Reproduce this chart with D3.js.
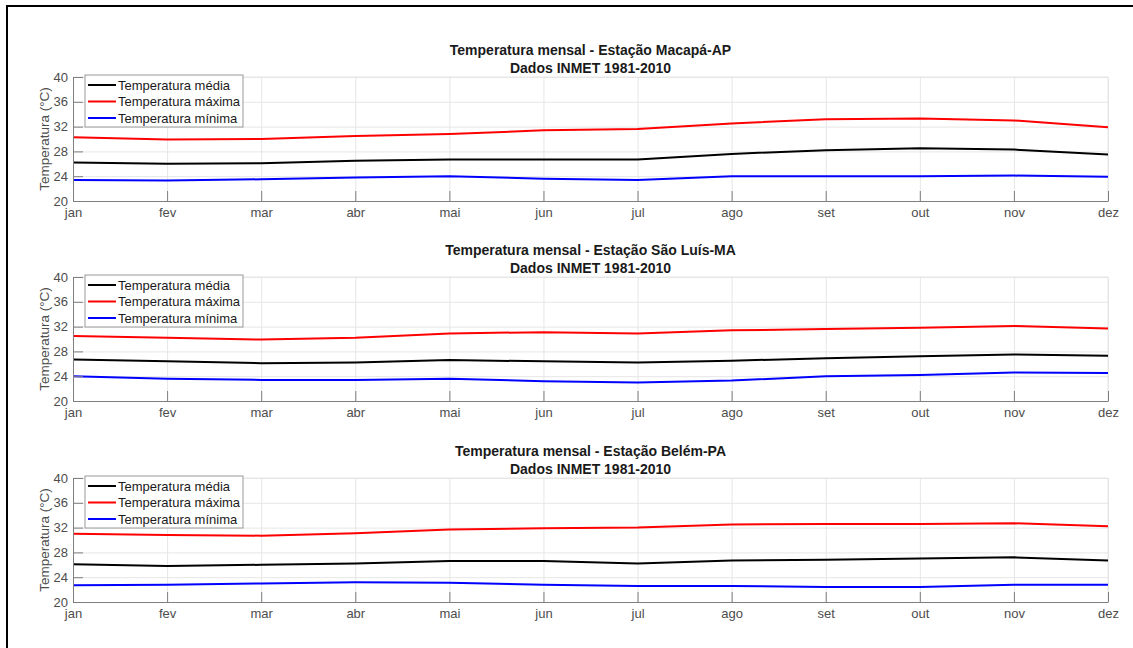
<!DOCTYPE html>
<html>
<head>
<meta charset="utf-8">
<script src="https://cdn.jsdelivr.net/npm/d3@7"></script>
<style>
  html, body { margin: 0; padding: 0; background: #fff; }
  svg { display: block; }
  text { font-family: "Liberation Sans", Arial, Helvetica, sans-serif; }
</style>
</head>
<body>
<svg id="chart" width="1133" height="648"></svg>
<script>
// Monthly normals (INMET 1981-2010), °C
const months = ["jan", "fev", "mar", "abr", "mai", "jun", "jul", "ago", "set", "out", "nov", "dez"];
const yTicks = [20, 24, 28, 32, 36, 40];

const stations = ["Macapá-AP", "São Luís-MA", "Belém-PA"];

const macapaMedia  = [26.2, 26.0, 26.1, 26.5, 26.7, 26.7, 26.7, 27.6, 28.2, 28.5, 28.3, 27.5];
const macapaMaxima = [30.3, 29.9, 30.0, 30.5, 30.8, 31.4, 31.6, 32.5, 33.2, 33.3, 33.0, 31.9];
const macapaMinima = [23.4, 23.3, 23.5, 23.8, 24.0, 23.6, 23.4, 24.0, 24.0, 24.0, 24.1, 23.9];

const saoLuisMedia  = [26.7, 26.4, 26.1, 26.2, 26.6, 26.4, 26.2, 26.5, 26.9, 27.2, 27.5, 27.3];
const saoLuisMaxima = [30.5, 30.2, 29.9, 30.2, 30.9, 31.1, 30.9, 31.4, 31.6, 31.8, 32.1, 31.7];
const saoLuisMinima = [24.0, 23.6, 23.4, 23.4, 23.6, 23.2, 23.0, 23.3, 24.0, 24.2, 24.6, 24.5];

const belemMedia  = [26.1, 25.8, 26.0, 26.2, 26.6, 26.6, 26.2, 26.7, 26.8, 27.0, 27.2, 26.7];
const belemMaxima = [31.0, 30.8, 30.7, 31.1, 31.7, 31.9, 32.0, 32.5, 32.6, 32.6, 32.7, 32.2];
const belemMinima = [22.7, 22.8, 23.0, 23.2, 23.1, 22.8, 22.6, 22.6, 22.4, 22.4, 22.8, 22.8];

const seriesNames  = ["Temperatura média", "Temperatura máxima", "Temperatura mínima"];
const seriesColors = ["#000000", "#ff0000", "#0000ff"];

const stationSeries = [
  [macapaMedia, macapaMaxima, macapaMinima],
  [saoLuisMedia, saoLuisMaxima, saoLuisMinima],
  [belemMedia, belemMaxima, belemMinima]
];

const svg = d3.select("#chart");

// figure frame (top and left edges)
svg.append("line").attr("x1", 7).attr("x2", 1133).attr("y1", 6).attr("y2", 6)
  .attr("stroke", "#000").attr("stroke-width", 2);
svg.append("line").attr("x1", 7).attr("x2", 7).attr("y1", 5).attr("y2", 648)
  .attr("stroke", "#000").attr("stroke-width", 2);

const left = 73, right = 1108;
const panelTops = [77, 277, 478];
const plotH = 124;

const x = d3.scalePoint().domain(months).range([left, right]);

const tickFont = 13;
const legendFont = 13;
const titleFont = 14;
const labelFont = 13.5;
const axisGray = "#7f7f7f";
const labelGray = "#4d4d4d";

stations.forEach((station, si) => {
  const top = panelTops[si];
  const bottom = top + plotH;
  const y = d3.scaleLinear().domain([20, 40]).range([bottom, top]);
  const g = svg.append("g");

  // grid
  const gridX = g.append("g").attr("transform", `translate(0,${bottom})`)
    .call(d3.axisBottom(x).tickSize(-plotH).tickFormat(""));
  gridX.select(".domain").remove();
  gridX.selectAll("line").attr("stroke", "#e6e6e6").attr("stroke-width", 1);

  const gridY = g.append("g").attr("transform", `translate(${left},0)`)
    .call(d3.axisLeft(y).tickValues(yTicks).tickSize(-(right - left)).tickFormat(""));
  gridY.select(".domain").remove();
  gridY.selectAll("line").attr("stroke", "#e6e6e6").attr("stroke-width", 1);

  // top / right box edges
  g.append("line").attr("x1", left).attr("x2", right).attr("y1", top).attr("y2", top)
    .attr("stroke", "#e6e6e6");
  g.append("line").attr("x1", right).attr("x2", right).attr("y1", top).attr("y2", bottom)
    .attr("stroke", "#e6e6e6");

  // series
  const line = d3.line().x((d, i) => x(months[i])).y(d => y(d));
  stationSeries[si].forEach((vals, k) => {
    g.append("path").datum(vals)
      .attr("d", line)
      .attr("fill", "none")
      .attr("stroke", seriesColors[k])
      .attr("stroke-width", 2)
      .attr("stroke-linejoin", "round");
  });

  // axes
  const ax = g.append("g").attr("transform", `translate(0,${bottom})`)
    .call(d3.axisBottom(x).tickSizeInner(-10).tickSizeOuter(0).tickPadding(7));
  ax.select(".domain").attr("stroke", axisGray);
  ax.selectAll(".tick line").attr("stroke", axisGray);
  ax.selectAll("text").attr("fill", labelGray).attr("font-size", tickFont)
    .attr("font-family", "'Liberation Sans', Arial, sans-serif");

  const ay = g.append("g").attr("transform", `translate(${left},0)`)
    .call(d3.axisLeft(y).tickValues(yTicks).tickSizeInner(-10).tickSizeOuter(0).tickPadding(5));
  ay.select(".domain").attr("stroke", axisGray);
  ay.selectAll(".tick line").attr("stroke", axisGray);
  ay.selectAll("text").attr("fill", labelGray).attr("font-size", tickFont)
    .attr("font-family", "'Liberation Sans', Arial, sans-serif");

  // y label
  g.append("text")
    .attr("transform", `translate(${49},${(top + bottom) / 2}) rotate(-90)`)
    .attr("text-anchor", "middle")
    .attr("fill", labelGray)
    .attr("font-size", labelFont)
    .text("Temperatura (°C)");

  // title
  const cx = (left + right) / 2;
  g.append("text").attr("x", cx).attr("y", top - 22)
    .attr("text-anchor", "middle").attr("font-weight", "bold")
    .attr("font-size", titleFont).attr("fill", "#1a1a1a")
    .text(`Temperatura mensal - Estação ${station}`);
  g.append("text").attr("x", cx).attr("y", top - 4)
    .attr("text-anchor", "middle").attr("font-weight", "bold")
    .attr("font-size", titleFont).attr("fill", "#1a1a1a")
    .text("Dados INMET 1981-2010");

  // legend
  const lg = g.append("g").attr("transform", `translate(85,${top - 2})`);
  lg.append("rect").attr("x", 0).attr("y", 0).attr("width", 158).attr("height", 52)
    .attr("fill", "#fff").attr("stroke", "#999").attr("stroke-width", 1);
  seriesNames.forEach((name, k) => {
    const ly = 10 + k * 16.5;
    lg.append("line").attr("x1", 3).attr("x2", 31).attr("y1", ly).attr("y2", ly)
      .attr("stroke", seriesColors[k]).attr("stroke-width", 2);
    lg.append("text").attr("x", 33).attr("y", ly + 4.5)
      .attr("font-size", legendFont).attr("fill", "#1a1a1a")
      .text(name);
  });
});
</script>
</body>
</html>
